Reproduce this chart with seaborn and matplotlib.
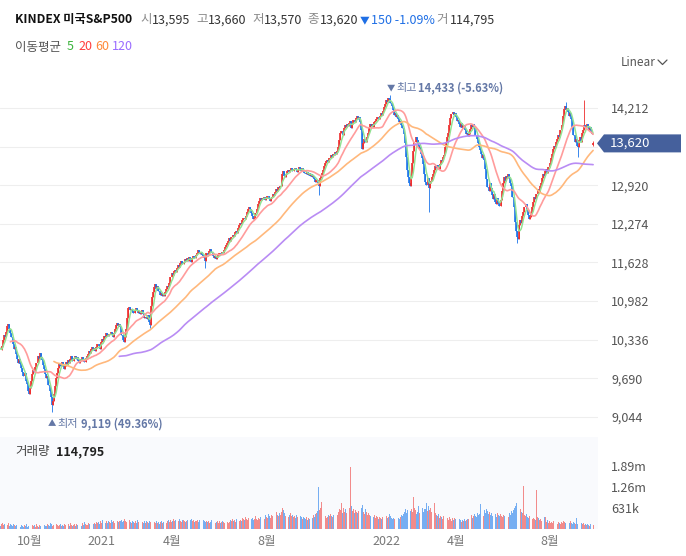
import numpy as np
import pandas as pd
import matplotlib
matplotlib.use("Agg")
import matplotlib.pyplot as plt
import matplotlib.transforms as mtrans
from matplotlib.lines import Line2D
from matplotlib.patches import Polygon
import seaborn as sns

sns.set_theme(style="white")
plt.rcParams["font.family"] = ["Noto Sans CJK KR", "DejaVu Sans"]

# daily closes, business days from 2020-08-11
close = [
    10180, 10240, 10150, 10090, 10210, 10300, 10260, 10190, 10120, 10170,
    10160, 10230, 10330, 10410, 10380, 10470, 10560, 10590, 10520, 10450,
    10380, 10260, 10180, 10210, 10090, 10010, 9950, 10020, 9930, 9870,
    9800, 9730, 9780, 9650, 9590, 9480, 9430, 9520, 9640, 9760,
    9830, 9790, 9880, 9950, 10060, 10010, 10110, 10040, 9990, 9920,
    9850, 9760, 9690, 9720, 9580, 9470, 9380, 9250, 9310, 9420,
    9560, 9690, 9780, 9870, 9930, 9890, 9960, 9920, 9850, 9900,
    9960, 9920, 9990, 9940, 10020, 10060, 9980, 10030, 10070, 10010,
    10040, 9980, 9950, 10010, 9990, 10050, 10000, 9970, 10030, 10060,
    10090, 10150, 10120, 10180, 10220, 10160, 10200, 10140, 10210, 10270,
    10230, 10180, 10290, 10350, 10310, 10400, 10380, 10440, 10420, 10390,
    10430, 10460, 10410, 10380, 10450, 10520, 10580, 10610, 10560, 10600,
    10540, 10420, 10330, 10290, 10380, 10510, 10700, 10860, 10880, 10830,
    10850, 10810, 10790, 10840, 10870, 10820, 10780, 10810, 10760, 10790,
    10830, 10760, 10700, 10720, 10680, 10750, 10640, 10580, 10900, 11050,
    11140, 11220, 11260, 11190, 11230, 11150, 11090, 11120, 11070, 11100,
    11060, 11130, 11180, 11240, 11210, 11290, 11380, 11450, 11420, 11480,
    11510, 11470, 11540, 11580, 11560, 11620, 11650, 11600, 11640, 11680,
    11650, 11700, 11660, 11720, 11690, 11640, 11710, 11740, 11700, 11760,
    11790, 11830, 11800, 11770, 11810, 11760, 11730, 11700, 11660, 11780,
    11760, 11820, 11850, 11800, 11780, 11740, 11700, 11730, 11690, 11720,
    11760, 11790, 11770, 11810, 11790, 11840, 11880, 11920, 11960, 11990,
    12030, 11990, 12050, 12090, 12070, 12130, 12160, 12120, 12200, 12250,
    12290, 12270, 12330, 12380, 12350, 12410, 12480, 12530, 12560, 12520,
    12460, 12400, 12360, 12380, 12450, 12520, 12600, 12660, 12700, 12680,
    12710, 12690, 12720, 12680, 12700, 12740, 12690, 12660, 12710, 12730,
    12780, 12750, 12800, 12850, 12830, 12890, 12870, 12910, 13100, 13150,
    13080, 13060, 13110, 13150, 13180, 13140, 13170, 13200, 13160, 13190,
    13210, 13170, 13140, 13180, 13220, 13190, 13150, 13200, 13160, 13130,
    13100, 13140, 13090, 13120, 13070, 13110, 13060, 13080, 13020, 12980,
    13010, 12950, 12900, 13040, 13090, 13120, 13180, 13250, 13300, 13330,
    13350, 13310, 13380, 13420, 13400, 13450, 13430, 13470, 13440, 13490,
    13560, 13680, 13790, 13820, 13760, 13870, 13930, 13900, 13950, 13910,
    13960, 13990, 13880, 13940, 14010, 13980, 14050, 14080, 14020, 14060,
    13980, 13850, 13520, 13620, 13700, 13640, 13720, 13800, 13890, 13940,
    13910, 13950, 13900, 13970, 13990, 14020, 14060, 14030, 14080, 14120,
    14090, 14160, 14230, 14280, 14340, 14310, 14380, 14360, 14290, 14250,
    14180, 14100, 14120, 14060, 14090, 14020, 13970, 13990, 13930, 13880,
    13780, 13620, 13400, 13180, 13050, 12960, 12900, 13050, 13300, 13500,
    13640, 13720, 13680, 13600, 13520, 13560, 13450, 13380, 13280, 13100,
    12980, 12920, 13040, 12880, 12950, 12990, 13060, 13100, 13180, 13240,
    13210, 13260, 13190, 13280, 13350, 13320, 13400, 13430, 13560, 13650,
    13720, 13800, 13920, 14040, 14110, 14150, 14090, 14120, 14060, 13990,
    14010, 13950, 13900, 13960, 13880, 13920, 13850, 13780, 13800, 13740,
    13780, 13860, 13930, 13890, 13950, 13870, 13760, 13700, 13620, 13560,
    13510, 13440, 13380, 13420, 13350, 13190, 13020, 12890, 12820, 12950,
    12880, 12760, 12690, 12780, 12640, 12600, 12700, 12620, 12580, 12680,
    12820, 12960, 13050, 12990, 13080, 13040, 13110, 13060, 12950, 12900,
    12720, 12560, 12300, 12150, 12050, 12020, 12250, 12340, 12290, 12400,
    12480, 12560, 12610, 12530, 12420, 12350, 12390, 12470, 12560, 12640,
    12720, 12690, 12780, 12850, 12800, 12900, 12960, 13040, 13100, 13080,
    13150, 13190, 13120, 13220, 13300, 13380, 13450, 13520, 13580, 13560,
    13640, 13700, 13760, 13730, 13850, 13930, 14080, 14200, 14250, 14180,
    14220, 14150, 14080, 14120, 14020, 13900, 13760, 13640, 13700, 13580,
    13560, 13680, 13720, 13650, 13790, 13850, 13920, 13890, 13950, 13900,
    13840, 13900, 13810, 13770, 13620,
]

# daily volume in thousands
volume_k = [
    110, 130, 95, 140, 120, 105, 150, 125, 100, 115,
    90, 140, 180, 120, 160, 110, 130, 170, 100, 140,
    120, 90, 150, 110, 80, 130, 100, 160, 70, 110,
    90, 60, 120, 80, 140, 70, 100, 60, 90, 130,
    80, 110, 60, 140, 90, 70, 120, 100, 60, 90,
    130, 80, 100, 150, 110, 90, 170, 140, 100, 120,
    90, 140, 110, 80, 130, 160, 100, 120, 90, 150,
    110, 80, 140, 100, 170, 120, 90, 130, 150, 100,
    160, 120, 190, 140, 100, 170, 130, 200, 150, 110,
    130, 180, 150, 210, 120, 160, 190, 140, 220, 170,
    200, 160, 240, 180, 260, 210, 170, 230, 190, 250,
    220, 180, 260, 200, 240, 190, 280, 230, 210, 250,
    230, 270, 210, 250, 300, 240, 220, 290, 260, 200,
    180, 240, 210, 170, 230, 190, 260, 200, 220, 180,
    200, 170, 230, 190, 250, 210, 180, 240, 220, 190,
    170, 210, 190, 230, 180, 220, 160, 200, 240, 190,
    210, 250, 190, 230, 270, 220, 260, 200, 240, 310,
    230, 270, 210, 250, 290, 240, 220, 280, 260, 230,
    200, 240, 280, 220, 260, 300, 230, 270, 210, 250,
    230, 270, 220, 260, 200, 240, 280, 230, 210, 250,
    200, 240, 180, 220, 260, 190, 230, 170, 210, 250,
    190, 230, 170, 210, 250, 200, 180, 240, 220, 190,
    210, 260, 230, 300, 250, 280, 220, 310, 270, 240,
    280, 240, 330, 290, 260, 350, 300, 270, 320, 250,
    290, 340, 270, 310, 380, 300, 260, 330, 290, 350,
    320, 380, 300, 420, 360, 330, 450, 390, 340, 410,
    380, 440, 360, 500, 420, 390, 470, 430, 520, 640,
    560, 470, 390, 440, 360, 410, 480, 380, 430, 350,
    380, 330, 420, 360, 310, 400, 350, 290, 370, 330,
    300, 360, 280, 340, 310, 390, 330, 420, 370, 450,
    480, 540, 1260, 560, 620, 810, 460, 420, 380, 340,
    360, 420, 380, 460, 400, 350, 430, 390, 480, 420,
    520, 610, 560, 780, 470, 640, 520, 590, 480, 550,
    620, 1850, 680, 540, 600, 480, 560, 510, 470, 530,
    580, 640, 720, 520, 460, 610, 500, 430, 480, 410,
    380, 440, 360, 410, 330, 390, 350, 300, 370, 340,
    310, 360, 280, 340, 400, 330, 370, 450, 390, 320,
    290, 340, 310, 380, 260, 330, 300, 360, 420, 380,
    450, 520, 610, 480, 560, 490, 540, 600, 520, 960,
    640, 580, 460, 520, 700, 480, 560, 620, 510, 590,
    600, 780, 540, 680, 570, 640, 520, 600, 790, 480,
    420, 380, 460, 340, 400, 360, 310, 380, 340, 290,
    330, 280, 360, 300, 250, 320, 270, 340, 290, 260,
    240, 300, 260, 220, 280, 250, 310, 230, 270, 290,
    310, 360, 420, 330, 380, 450, 400, 350, 480, 430,
    460, 750, 520, 400, 560, 480, 610, 530, 440, 500,
    420, 470, 380, 510, 440, 360, 490, 410, 380, 450,
    400, 350, 430, 380, 460, 420, 370, 480, 410, 540,
    480, 560, 620, 700, 780, 650, 560, 610, 520, 470,
    1300, 420, 380, 460, 350, 320, 400, 360, 310, 340,
    300, 280, 1170, 360, 330, 260, 310, 240, 290, 360,
    360, 220, 260, 190, 240, 180, 210, 170, 230, 200,
    190, 160, 220, 180, 150, 210, 170, 240, 200, 180,
    160, 210, 180, 230, 190, 150, 200, 170, 140, 330,
    150, 180, 130, 170, 140, 190, 120, 160, 110, 150,
    130, 100, 140, 120, 115,
]
last_volume = 114795

# last session from the header: open, high, low, close
last_ohlc = [13595, 13660, 13570, 13620]

# days with visible long wicks
wick_day = [57, 147, 198, 302, 368, 403, 484, 529, 540, 546]
wick_high = [np.nan, np.nan, np.nan, np.nan, 14433, np.nan, np.nan, 14320, np.nan, 14350]
wick_low = [9119, 10530, 11530, 12760, np.nan, 12470, 11960, np.nan, 13390, np.nan]

ma_windows = [5, 20, 60, 120]
ma_colors = ["#93e293", "#ff9c9c", "#ffb87c", "#b98cf4"]
ma_label_colors = ["#3cb43c", "#ff3d3d", "#ff8a3a", "#9a6cff"]

month_labels = ["10월", "2021", "4월", "8월", "2022", "4월", "8월"]
month_starts = ["2020-10", "2021-01", "2021-04", "2021-08", "2022-01", "2022-04", "2022-08"]

price_ticks = [9044, 9690, 10336, 10982, 11628, 12274, 12920, 13566, 14212]
vol_ticks = [631000, 1262000, 1893000]
vol_tick_labels = ["631k", "1.26m", "1.89m"]

RED = "#ee2b2b"
BLUE = "#1a74ea"
VRED = "#f28b8b"
VBLUE = "#76aef2"
ANN = "#6478a6"

# ---- frame
df = pd.DataFrame({
    "date": pd.bdate_range("2020-08-11", periods=len(close)),
    "close": close,
    "volume": np.array(volume_k) * 1000,
})
df.loc[df.index[-1], "volume"] = last_volume
df["d"] = np.arange(len(df))
df["open"] = df["close"].shift(1).fillna(df["close"])
last = df.index[-1]
df.loc[last, "open"] = last_ohlc[0]
df["high"] = df[["open", "close"]].max(axis=1)
df["low"] = df[["open", "close"]].min(axis=1)
df.loc[last, "high"] = last_ohlc[1]
df.loc[last, "low"] = last_ohlc[2]
for d, h, l in zip(wick_day, wick_high, wick_low):
    if not np.isnan(h):
        df.loc[d, "high"] = h
    if not np.isnan(l):
        df.loc[d, "low"] = l
for w in ma_windows:
    df[f"ma{w}"] = df["close"].rolling(w).mean()

up = df["close"] >= df["open"]

# ---- figure
W, H = 686, 556
fig = plt.figure(figsize=(W / 100, H / 100), dpi=100)


def fx(px):
    return px / W


def fy(py):
    return 1 - py / H


ax = fig.add_axes([0, fy(435), fx(598), (435 - 70) / H])
axv = fig.add_axes([0, fy(529), fx(598), (529 - 437) / H], sharex=ax)

# candles
ax.vlines(df["d"], df["low"], df["high"], colors=np.where(up, RED, BLUE), lw=0.6, zorder=2)
ax.vlines(df["d"], df["open"], df["close"], colors=np.where(up, RED, BLUE), lw=1.2, zorder=2)

for w, c in zip(ma_windows, ma_colors):
    sns.lineplot(data=df, x="d", y=f"ma{w}", ax=ax, color=c, lw=1.1 if w == 5 else 1.2, zorder=3)

ax.set_xlim(9.5, 558.5)
ax.set_ylim(14212 - (435 - 108) * 16.73, 14212 + (108 - 70) * 16.73)
ax.set_yticks(price_ticks)
ax.set_yticklabels([f"{t:,}" if t != 13566 else "" for t in price_ticks])
ax.yaxis.tick_right()
ax.tick_params(axis="y", length=0, pad=9.4, labelsize=9, labelcolor="#555555")
ax.tick_params(axis="x", length=0, labelbottom=False)
ax.grid(axis="y", color="#eeeeee", lw=0.8)
ax.set_axisbelow(True)
ax.set_xlabel("")
ax.set_ylabel("")
for s in ax.spines.values():
    s.set_visible(False)

# high / low annotations
imax = df["high"].idxmax()
hmax = df.loc[imax, "high"]
imin = df["low"].idxmin()
lmin = df.loc[imin, "low"]
cur = close[-1]
ax.annotate("▼", xy=(imax, hmax), xytext=(0, 5), textcoords="offset points",
            ha="center", va="center", fontsize=6, color=ANN)
ax.annotate("최고", xy=(imax, hmax), xytext=(4, 5), textcoords="offset points",
            ha="left", va="center", fontsize=8, color=ANN)
ax.annotate(f"{hmax:,.0f} ({(cur - hmax) / hmax * 100:.2f}%)", xy=(imax, hmax),
            xytext=(20, 5), textcoords="offset points",
            ha="left", va="center", fontsize=8, color=ANN, fontweight="bold")
ax.annotate("▲", xy=(imin, lmin), xytext=(0, -8), textcoords="offset points",
            ha="center", va="center", fontsize=6, color=ANN)
ax.annotate("최저", xy=(imin, lmin), xytext=(4, -8), textcoords="offset points",
            ha="left", va="center", fontsize=8, color=ANN)
ax.annotate(f"{lmin:,.0f} ({(cur - lmin) / lmin * 100:.2f}%)", xy=(imin, lmin),
            xytext=(21, -8), textcoords="offset points",
            ha="left", va="center", fontsize=8, color=ANN, fontweight="bold")

# current price badge
bt = mtrans.blended_transform_factory(ax.transAxes, ax.transData)
hh = 9 * 16.73
badge = Polygon([(597 / 598, cur), (604 / 598, cur + hh), (681 / 598, cur + hh),
                 (681 / 598, cur - hh), (604 / 598, cur - hh)],
                closed=True, transform=bt, fc="#45609c", ec="none", clip_on=False, zorder=10)
ax.add_patch(badge)
ax.text(610 / 598, cur, f"{cur:,}", transform=bt, ha="left", va="center",
        color="white", fontsize=9.5, zorder=11, clip_on=False)

# volume
axv.set_facecolor("#f9fafd")
axv.bar(df["d"], df["volume"], width=0.8, color=np.where(up, VRED, VBLUE), lw=0)
axv.set_ylim(0, 631000 * 92 / 21)
axv.set_yticks(vol_ticks)
axv.set_yticklabels(vol_tick_labels)
axv.yaxis.tick_right()
axv.tick_params(axis="y", length=0, pad=9.4, labelsize=9, labelcolor="#555555")
ticks = [int(np.argmax(df["date"].dt.strftime("%Y-%m") == m)) for m in month_starts]
axv.set_xticks(ticks)
axv.set_xticklabels(month_labels)
axv.tick_params(axis="x", length=0, pad=4, labelsize=9, labelcolor="#777777")
for s in axv.spines.values():
    s.set_visible(False)

# header
chg = close[-1] - close[-2]
hdr = [
    ("KINDEX 미국S&P500", 15, "#111111", "bold", 8.8),
    ("시", 140, "#8a8a8a", "normal", 9),
    (f"{last_ohlc[0]:,}", 152, "#333333", "normal", 9),
    ("고", 196, "#8a8a8a", "normal", 9),
    (f"{last_ohlc[1]:,}", 208, "#333333", "normal", 9),
    ("저", 252, "#8a8a8a", "normal", 9),
    (f"{last_ohlc[2]:,}", 264, "#333333", "normal", 9),
    ("종", 307, "#8a8a8a", "normal", 9),
    (f"{last_ohlc[3]:,}", 320, "#333333", "normal", 9),
    ("▼", 360, "#1f6fe5", "normal", 7),
    (f"{abs(chg)} {chg / close[-2] * 100:.2f}%", 371, "#1f6fe5", "normal", 9),
    ("거", 436, "#8a8a8a", "normal", 9),
    (f"{last_volume:,}", 450, "#333333", "normal", 9),
]
for txt, x, c, wt, fs in hdr:
    fig.text(fx(x), fy(20), txt, ha="left", va="center", color=c, fontweight=wt, fontsize=fs)

fig.text(fx(15), fy(47), "이동평균", ha="left", va="center", color="#555555", fontsize=9)
for lab, x, c in zip(ma_windows, [67, 78, 95, 112], ma_label_colors):
    fig.text(fx(x), fy(47), str(lab), ha="left", va="center", color=c, fontsize=9)

fig.text(fx(621), fy(62), "Linear", ha="left", va="center", color="#555555", fontsize=8.5)
fig.add_artist(Line2D([fx(658), fx(662.5), fx(667)], [fy(60), fy(64.5), fy(60)],
                      transform=fig.transFigure, color="#555555", lw=0.9))

fig.text(fx(15), fy(452), "거래량", ha="left", va="center", color="#444444", fontsize=9)
fig.text(fx(56), fy(452), f"{last_volume:,}", ha="left", va="center",
         color="#222222", fontsize=9, fontweight="bold")

fig.savefig("out.png", dpi=100)
